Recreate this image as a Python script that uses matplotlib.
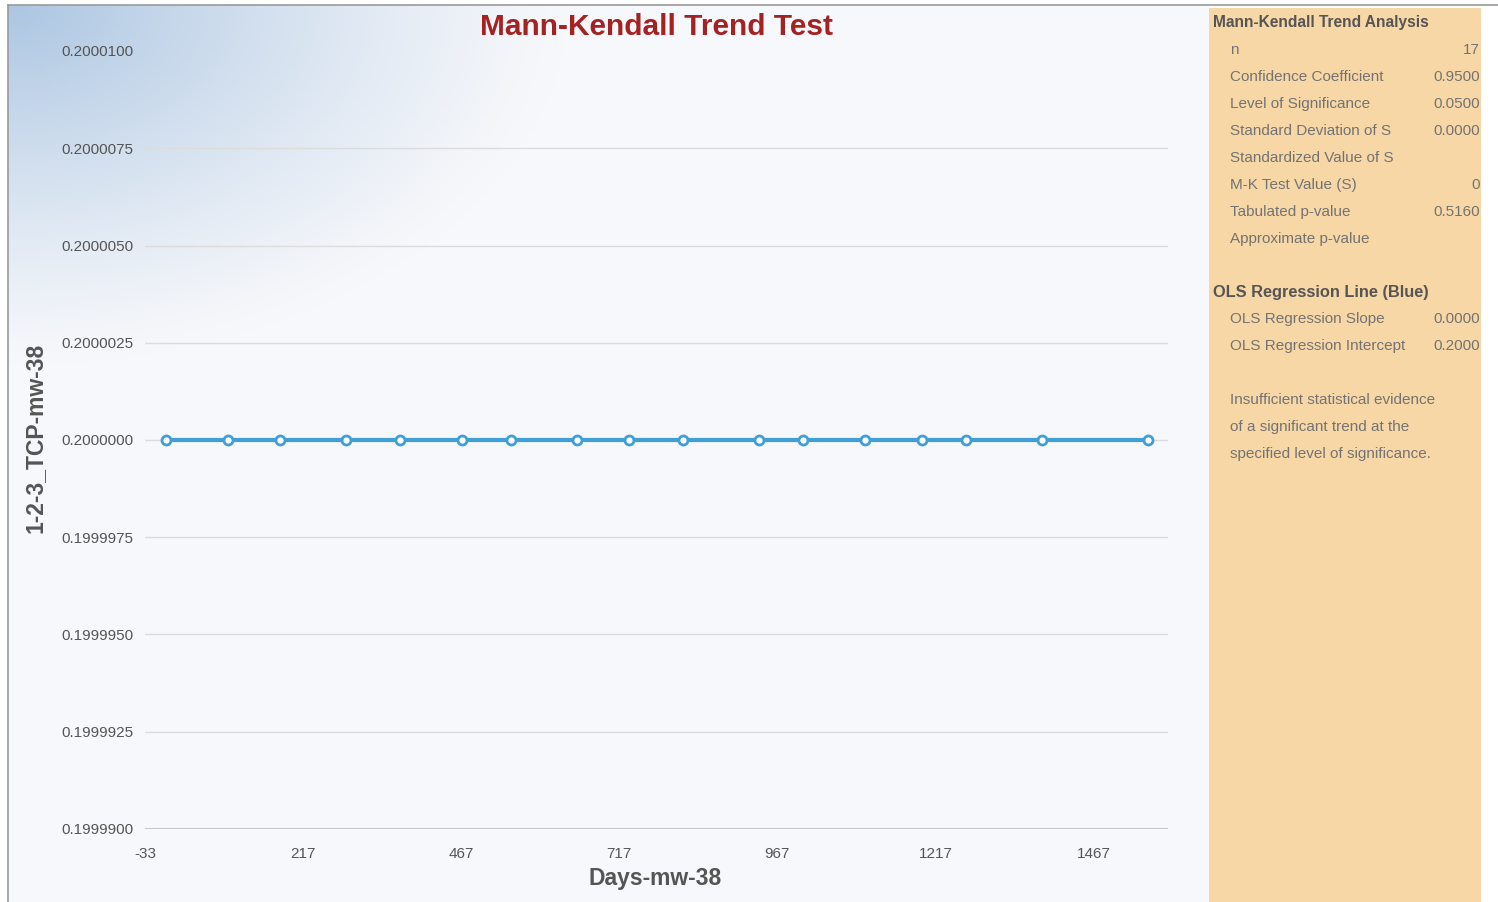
import matplotlib
matplotlib.use("Agg")
import matplotlib.pyplot as plt
import numpy as np
from matplotlib.patches import Rectangle
from matplotlib.lines import Line2D

plt.rcParams["font.family"] = ["Liberation Sans", "DejaVu Sans"]

# data
days = [0, 98, 181, 285, 370, 469, 546, 651, 733, 818, 938, 1007, 1105, 1196, 1266, 1385, 1554]
values = [0.2] * 17
x_ticks = [-33, 217, 467, 717, 967, 1217, 1467]
y_ticks = [0.19999, 0.1999925, 0.199995, 0.1999975, 0.2, 0.2000025, 0.200005, 0.2000075, 0.20001]

mk_labels = ["n", "Confidence Coefficient", "Level of Significance", "Standard Deviation of S",
             "Standardized Value of S", "M-K Test Value (S)", "Tabulated p-value", "Approximate p-value"]
mk_values = ["17", "0.9500", "0.0500", "0.0000", "", "0", "0.5160", ""]
ols_labels = ["OLS Regression Slope", "OLS Regression Intercept"]
ols_values = ["0.0000", "0.2000"]
note_lines = ["Insufficient statistical evidence", "of a significant trend at the",
              "specified level of significance."]

W, H = 1498, 902
fig = plt.figure(figsize=(W / 100, H / 100), dpi=100)
fig.patch.set_facecolor("white")

# background gradient (blue in the top-left corner fading to white)
bg = fig.add_axes([8 / W, 0, 1201 / W, 897 / H])
gx, gy = np.meshgrid(np.linspace(0, 1201, 300), np.linspace(0, 897, 220))
dist = np.sqrt((gx / 560) ** 2 + (gy / 360) ** 2)
t = np.clip(1 - dist, 0, 1) ** 1.2
top = np.array([172, 198, 226]) / 255
base = np.array([247, 248, 251]) / 255
img = base[None, None, :] * (1 - t[..., None]) + top[None, None, :] * t[..., None]
bg.imshow(img, aspect="auto", extent=[0, 1, 0, 1], origin="upper")
bg.set_axis_off()


def px(x, y):
    return x / W, 1 - y / H


# main plot
ax = fig.add_axes([145 / W, (H - 829) / H, (1168 - 145) / W, (829 - 51) / H])
ax.patch.set_alpha(0)
ax.plot(days, values, color="#3f9fd6", lw=3, marker="o", ms=6.5,
        mfc="white", mec="#3f9fd6", mew=2, zorder=3)
ax.set_xlim(-33, 1585)
ax.set_ylim(0.19999, 0.20001)
ax.set_xticks(x_ticks)
ax.set_xticklabels([str(v) for v in x_ticks])
ax.set_yticks(y_ticks)
ax.set_yticklabels([f"{v:.7f}" for v in y_ticks], ha="left")
ax.tick_params(length=0, labelsize=11, colors="#555555")
ax.tick_params(axis="y", pad=60)
ax.tick_params(axis="x", pad=13)
ax.grid(axis="y", color="#dcdcdc", lw=1)
ax.get_ygridlines()[-1].set_visible(False)
ax.get_ygridlines()[0].set_color("#c8c8c8")
ax.get_ygridlines()[0].set_linewidth(1.5)
ax.grid(axis="x", visible=False)
for s in ax.spines.values():
    s.set_visible(False)

fig.text(*px(655, 879), "Days-mw-38", fontsize=16.5, fontweight="bold", color="#555555",
         ha="center", va="center")
fig.text(*px(35, 438), "1-2-3_TCP-mw-38", fontsize=16.5, fontweight="bold", color="#555555",
         ha="center", va="center", rotation=90)
fig.text(*px(656, 27), "Mann-Kendall Trend Test", fontsize=21.5, fontweight="bold",
         color="#a52222", ha="center", va="center")

# right statistics panel
fig.patches.append(Rectangle(px(1209, 902), 272 / W, 894 / H, transform=fig.transFigure,
                             facecolor="#f8d7a6", edgecolor="none", zorder=0))
fig.lines.append(Line2D([8 / W, 1], [1 - 5 / H] * 2, transform=fig.transFigure, color="#9a9a9a", lw=1.2))
fig.lines.append(Line2D([8 / W] * 2, [0, 1 - 5 / H], transform=fig.transFigure, color="#9a9a9a", lw=1.2))

txt = dict(fontsize=11, color="#737373", va="center")
fig.text(*px(1213, 23), "Mann-Kendall Trend Analysis", fontsize=11.2, fontweight="bold",
         color="#555555", va="center")
for i, (lab, val) in enumerate(zip(mk_labels, mk_values)):
    y = 50 + 27 * i
    fig.text(*px(1230, y), lab, **txt)
    fig.text(*px(1480, y), val, ha="right", **txt)
fig.text(*px(1213, 292), "OLS Regression Line (Blue)", fontsize=11.8, fontweight="bold",
         color="#555555", va="center")
for i, (lab, val) in enumerate(zip(ols_labels, ols_values)):
    y = 319 + 27 * i
    fig.text(*px(1230, y), lab, **txt)
    fig.text(*px(1480, y), val, ha="right", **txt)
for i, line in enumerate(note_lines):
    fig.text(*px(1230, 400 + 27 * i), line, **txt)

fig.savefig("out.png", dpi=100)
